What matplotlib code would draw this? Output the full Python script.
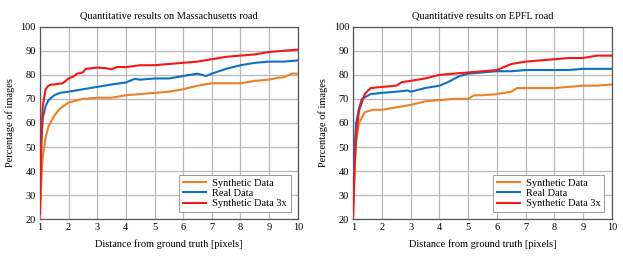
import matplotlib
matplotlib.use("Agg")
import matplotlib.pyplot as plt

plt.rcParams.update({
    "font.family": ["Liberation Serif", "DejaVu Serif"],
    "font.size": 7.5,
    "axes.titlesize": 7.5,
    "axes.labelsize": 7.5,
    "xtick.labelsize": 7.5,
    "ytick.labelsize": 7.5,
    "legend.fontsize": 7.5,
})

# ─── Data ───────────────────────────────────────────────────────────────
MA_X_RED = [1.0, 1.05, 1.1, 1.2, 1.3, 1.4, 1.5, 1.8, 1.9, 2.0, 2.2, 2.3, 2.5, 2.6, 3.0,
            3.3, 3.5, 3.7, 4.0, 4.5, 5.0, 5.5, 6.0, 6.5, 7.0, 7.5, 8.0, 8.5, 9.0,
            9.5, 10.0]
MA_RED = [22, 52, 67, 74, 75.5, 76, 76, 76.5, 77.5, 78.5, 79.5, 80.5, 81, 82.5, 83,
          82.8, 82.3, 83.3, 83.2, 84, 84, 84.5, 85, 85.5, 86.5, 87.5, 88, 88.5, 89.5,
          90, 90.5]
MA_X_BLUE = [1.0, 1.05, 1.1, 1.2, 1.3, 1.5, 1.7, 2.0, 2.5, 3.0, 3.5, 4.0, 4.3, 4.5,
             5.0, 5.5, 6.0, 6.5, 6.8, 7.0, 7.5, 8.0, 8.5, 9.0, 9.5, 10.0]
MA_BLUE = [30, 52, 62, 67, 69.5, 71.5, 72.5, 73, 74, 75, 76, 76.8, 78.3, 78,
           78.5, 78.5, 79.5, 80.5, 79.5, 80.5, 82.5, 84, 85, 85.5, 85.5, 86]
MA_X_ORANGE = [1.0, 1.05, 1.1, 1.2, 1.3, 1.5, 1.7, 2.0, 2.5, 3.0, 3.5, 4.0, 4.5, 5.0,
               5.5, 6.0, 6.5, 7.0, 7.5, 8.0, 8.5, 9.0, 9.3, 9.5, 9.8, 10.0]
MA_ORANGE = [20, 36, 46, 54, 58.5, 63, 66, 68.5, 70, 70.5, 70.5, 71.5, 72, 72.5,
             73, 74, 75.5, 76.5, 76.5, 76.5, 77.5, 78, 78.8, 79, 80.5, 80.5]

EP_X_RED = [1.0, 1.05, 1.1, 1.2, 1.4, 1.6, 2.0, 2.5, 2.7, 3.0, 3.5, 4.0, 4.5, 5.0, 5.5,
            6.0, 6.5, 7.0, 7.5, 8.0, 8.5, 9.0, 9.5, 10.0]
EP_RED = [22, 42, 55, 65, 72, 74.5, 75, 75.5, 77, 77.5, 78.5, 80, 80.5, 81, 81.5,
          82, 84.5, 85.5, 86, 86.5, 87, 87, 88, 88]
EP_X_BLUE = [1.0, 1.05, 1.1, 1.2, 1.3, 1.6, 2.0, 2.5, 2.9, 3.0, 3.5, 4.0, 4.3, 4.7,
             5.0, 5.5, 6.0, 6.5, 7.0, 7.5, 8.0, 8.5, 9.0, 9.5, 10.0]
EP_BLUE = [35, 50, 60, 66, 70, 72, 72.5, 73, 73.5, 73, 74.5, 75.5, 77, 79.5,
           80.5, 81, 81.5, 81.5, 82, 82, 82, 82, 82.5, 82.5, 82.5]
EP_X_ORANGE = [1.0, 1.05, 1.1, 1.2, 1.4, 1.7, 2.0, 2.5, 3.0, 3.5, 4.0, 4.5, 5.0, 5.2,
               5.5, 6.0, 6.5, 6.7, 7.0, 7.5, 8.0, 8.5, 9.0, 9.5, 10.0]
EP_ORANGE = [25, 42, 52, 60, 64.5, 65.5, 65.5, 66.5, 67.5, 69, 69.5, 70, 70, 71.5,
             71.5, 72, 73, 74.5, 74.5, 74.5, 74.5, 75, 75.5, 75.5, 76]

TITLES = ["Quantitative results on Massachusetts road", "Quantitative results on EPFL road"]
LABELS = ["Synthetic Data", "Real Data", "Synthetic Data 3x"]
COLORS = ["#EE7F22", "#0B72C4", "#F51616"]

# ─── Plot ────────────────────────────────────────────────────────────────
fig = plt.figure(figsize=(6.23, 2.57), dpi=100)
ax1 = fig.add_axes([0.064, 0.147, 0.414, 0.749])
ax2 = fig.add_axes([0.567, 0.147, 0.415, 0.749])

panels = [
    (ax1, [(MA_X_ORANGE, MA_ORANGE), (MA_X_BLUE, MA_BLUE), (MA_X_RED, MA_RED)]),
    (ax2, [(EP_X_ORANGE, EP_ORANGE), (EP_X_BLUE, EP_BLUE), (EP_X_RED, EP_RED)]),
]

for (ax, series), title in zip(panels, TITLES):
    for (xs, ys), lab, col in zip(series, LABELS, COLORS):
        ax.plot(xs, ys, color=col, lw=1.5, label=lab, zorder=3)
    ax.set_xlim(1, 10)
    ax.set_ylim(20, 100)
    ax.set_xticks(range(1, 11))
    ax.set_yticks(range(20, 101, 10))
    ax.grid(color="#B8B8B8", lw=0.9, zorder=0)
    ax.tick_params(length=0, pad=3)
    for sp in ax.spines.values():
        sp.set_color("#555555")
        sp.set_linewidth(0.9)
    ax.set_title(title, pad=6)
    ax.set_xlabel("Distance from ground truth [pixels]", labelpad=5)
    ax.set_ylabel("Percentage of images", labelpad=4)
    leg = ax.legend(loc="lower right", fancybox=False, edgecolor="#999999",
                    framealpha=1, handlelength=2.2, borderpad=0.35,
                    labelspacing=0.1, handletextpad=0.6, borderaxespad=0.7)
    leg.get_frame().set_linewidth(0.7)

fig.savefig("out.png", dpi=100, facecolor="white")
plt.close()
